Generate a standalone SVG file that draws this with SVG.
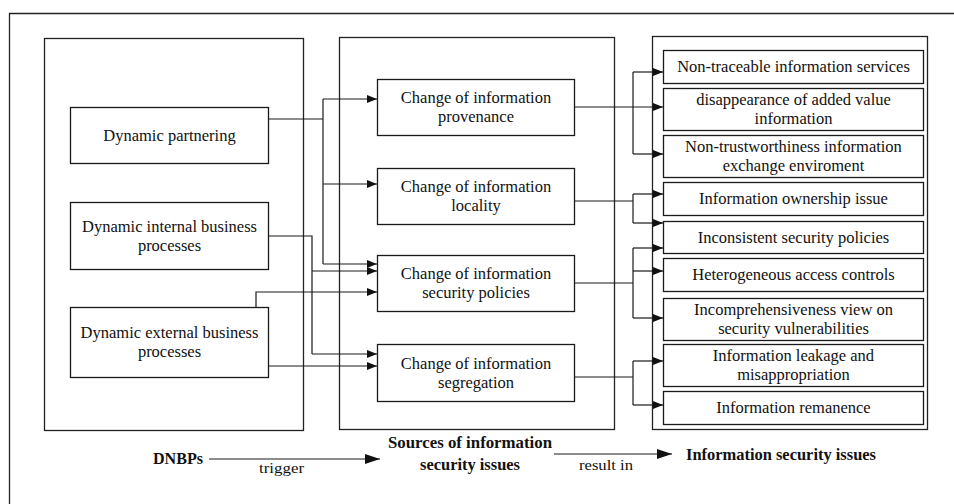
<svg xmlns="http://www.w3.org/2000/svg" width="954" height="504" viewBox="0 0 954 504">
  <style>
    .frame { fill: none; stroke: #222; stroke-width: 1.3; }
    .box { fill: #fff; stroke: #1a1a1a; stroke-width: 1.3; }
    .wire { fill: none; stroke: #1a1a1a; stroke-width: 1.2; }
    .lbl { font-family: "Liberation Serif", "Times New Roman", serif; font-size: 16.5px; fill: #111; text-anchor: middle; }
    .cap { font-family: "Liberation Serif", "Times New Roman", serif; font-size: 16px; font-weight: bold; fill: #111; }
    .sub { font-family: "Liberation Serif", "Times New Roman", serif; font-size: 15px; fill: #111; }
  </style>
  <defs>
    <marker id="tip" markerUnits="userSpaceOnUse" markerWidth="10" markerHeight="8" refX="10" refY="4" orient="auto">
      <path d="M0,0 L10,4 L0,8 Z" fill="#111"/>
    </marker>
    <marker id="bigtip" markerUnits="userSpaceOnUse" markerWidth="15" markerHeight="10" refX="15" refY="5" orient="auto">
      <path d="M0,0 L15,5 L0,10 Z" fill="#111"/>
    </marker>
  </defs>

  <rect width="954" height="504" fill="#fff"/>
  <!-- outer frame -->
  <path class="frame" d="M9.5,504 V13.5 H954"/>

  <!-- column containers -->
  <g id="col-dnbps"><rect class="frame" x="44.5" y="38.5" width="259" height="392"/></g>
  <g id="col-sources"><rect class="frame" x="339.5" y="37.5" width="275" height="392"/></g>
  <g id="col-issues"><rect class="frame" x="652.5" y="36.5" width="275" height="393"/></g>

  <!-- connectors -->
  <g id="connectors">
    <!-- DNBPs to sources -->
    <path class="wire" d="M268,119 H323"/>
    <path class="wire" d="M323,99 V264"/>
    <path class="wire" d="M323,99 H377" marker-end="url(#tip)"/>
    <path class="wire" d="M323,184 H377" marker-end="url(#tip)"/>
    <path class="wire" d="M323,264 H377" marker-end="url(#tip)"/>

    <path class="wire" d="M268,236 H312 V354"/>
    <path class="wire" d="M312,271 H377" marker-end="url(#tip)"/>
    <path class="wire" d="M312,354 H377" marker-end="url(#tip)"/>

    <path class="wire" d="M256,307 V292 H377" marker-end="url(#tip)"/>
    <path class="wire" d="M268,366 H377" marker-end="url(#tip)"/>

    <!-- sources to issues -->
    <path class="wire" d="M574,107 H663" marker-end="url(#tip)"/>
    <path class="wire" d="M633,72 V154"/>
    <path class="wire" d="M633,72 H663" marker-end="url(#tip)"/>
    <path class="wire" d="M633,154 H663" marker-end="url(#tip)"/>

    <path class="wire" d="M574,201 H633"/>
    <path class="wire" d="M633,194 V223"/>
    <path class="wire" d="M633,194 H663" marker-end="url(#tip)"/>
    <path class="wire" d="M633,223 H663" marker-end="url(#tip)"/>

    <path class="wire" d="M574,283 H633"/>
    <path class="wire" d="M633,248 V318"/>
    <path class="wire" d="M633,248 H663" marker-end="url(#tip)"/>
    <path class="wire" d="M633,271 H663" marker-end="url(#tip)"/>
    <path class="wire" d="M633,318 H663" marker-end="url(#tip)"/>

    <path class="wire" d="M574,377 H633"/>
    <path class="wire" d="M633,361 V405"/>
    <path class="wire" d="M633,361 H663" marker-end="url(#tip)"/>
    <path class="wire" d="M633,405 H663" marker-end="url(#tip)"/>

    <!-- legend arrows -->
    <path class="wire" d="M209,459 H380" marker-end="url(#bigtip)"/>
    <path class="wire" d="M554,454 H672" marker-end="url(#bigtip)"/>
  </g>

  <!-- DNBP nodes -->
  <g id="dynamic-partnering">
    <rect class="box" x="70.5" y="107.5" width="198" height="56"/>
    <text class="lbl" x="169.5" y="141">Dynamic partnering</text>
  </g>
  <g id="dynamic-internal">
    <rect class="box" x="70.5" y="202.5" width="198" height="67"/>
    <text class="lbl" x="169.5" y="231.5">Dynamic internal business</text>
    <text class="lbl" x="169.5" y="250.5">processes</text>
  </g>
  <g id="dynamic-external">
    <rect class="box" x="70.5" y="307.5" width="198" height="70"/>
    <text class="lbl" x="169.5" y="338">Dynamic external business</text>
    <text class="lbl" x="169.5" y="357">processes</text>
  </g>

  <!-- source nodes -->
  <g id="chg-provenance">
    <rect class="box" x="377.5" y="79.5" width="197" height="56"/>
    <text class="lbl" x="476" y="103">Change of information</text>
    <text class="lbl" x="476" y="122">provenance</text>
  </g>
  <g id="chg-locality">
    <rect class="box" x="377.5" y="168.5" width="197" height="56"/>
    <text class="lbl" x="476" y="192">Change of information</text>
    <text class="lbl" x="476" y="211">locality</text>
  </g>
  <g id="chg-policies">
    <rect class="box" x="377.5" y="255.5" width="197" height="56"/>
    <text class="lbl" x="476" y="279">Change of information</text>
    <text class="lbl" x="476" y="298">security policies</text>
  </g>
  <g id="chg-segregation">
    <rect class="box" x="377.5" y="344.5" width="197" height="57"/>
    <text class="lbl" x="476" y="368.5">Change of information</text>
    <text class="lbl" x="476" y="387.5">segregation</text>
  </g>

  <!-- issue nodes -->
  <g id="iss-traceable">
    <rect class="box" x="663.5" y="50.5" width="260" height="33"/>
    <text class="lbl" x="793.5" y="72">Non-traceable information services</text>
  </g>
  <g id="iss-added-value">
    <rect class="box" x="663.5" y="88.5" width="260" height="42"/>
    <text class="lbl" x="793.5" y="104.5">disappearance of added value</text>
    <text class="lbl" x="793.5" y="123.5">information</text>
  </g>
  <g id="iss-trust">
    <rect class="box" x="663.5" y="135.5" width="260" height="42"/>
    <text class="lbl" x="793.5" y="151.5">Non-trustworthiness information</text>
    <text class="lbl" x="793.5" y="170.5">exchange enviroment</text>
  </g>
  <g id="iss-ownership">
    <rect class="box" x="663.5" y="182.5" width="260" height="33"/>
    <text class="lbl" x="793.5" y="204">Information ownership issue</text>
  </g>
  <g id="iss-inconsistent">
    <rect class="box" x="663.5" y="221.5" width="260" height="32"/>
    <text class="lbl" x="793.5" y="242.5">Inconsistent security policies</text>
  </g>
  <g id="iss-access">
    <rect class="box" x="663.5" y="258.5" width="260" height="33"/>
    <text class="lbl" x="793.5" y="280">Heterogeneous access controls</text>
  </g>
  <g id="iss-vulnerabilities">
    <rect class="box" x="663.5" y="298.5" width="260" height="42"/>
    <text class="lbl" x="793.5" y="314.5">Incomprehensiveness view on</text>
    <text class="lbl" x="793.5" y="333.5">security vulnerabilities</text>
  </g>
  <g id="iss-leakage">
    <rect class="box" x="663.5" y="344.5" width="260" height="42"/>
    <text class="lbl" x="793.5" y="360.5">Information leakage and</text>
    <text class="lbl" x="793.5" y="379.5">misappropriation</text>
  </g>
  <g id="iss-remanence">
    <rect class="box" x="663.5" y="391.5" width="260" height="33"/>
    <text class="lbl" x="793.5" y="413">Information remanence</text>
  </g>

  <!-- legend -->
  <g id="legend">
    <text class="cap" x="153" y="464" textLength="50" lengthAdjust="spacingAndGlyphs">DNBPs</text>
    <text class="sub" x="259" y="473" textLength="45" lengthAdjust="spacingAndGlyphs">trigger</text>
    <text class="cap" x="388" y="448" textLength="164" lengthAdjust="spacingAndGlyphs">Sources of information</text>
    <text class="cap" x="420" y="470" textLength="100" lengthAdjust="spacingAndGlyphs">security issues</text>
    <text class="sub" x="579" y="470" textLength="54" lengthAdjust="spacingAndGlyphs">result in</text>
    <text class="cap" x="686" y="460" textLength="190" lengthAdjust="spacingAndGlyphs">Information security issues</text>
  </g>
</svg>
